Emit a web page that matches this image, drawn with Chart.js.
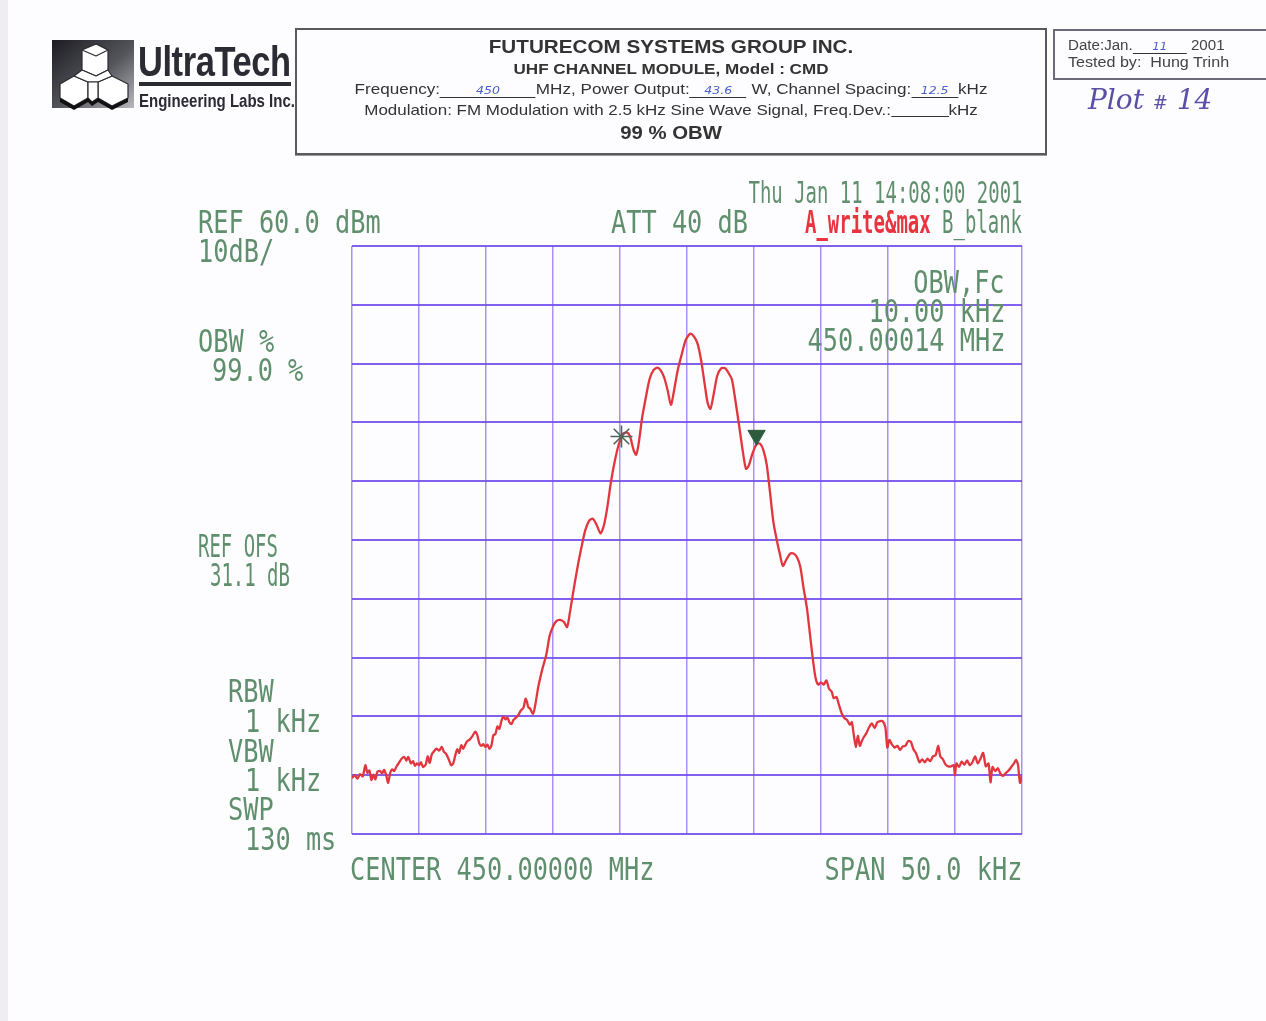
<!DOCTYPE html>
<html>
<head>
<meta charset="utf-8">
<script src="https://cdn.jsdelivr.net/npm/chart.js@4/dist/chart.umd.min.js"></script>
<style>
  html, body { margin:0; padding:0; background:#fdfcfe; }
  #page { position:relative; width:1266px; height:1021px; overflow:hidden; background:#fdfcfe; }
  #edge { position:absolute; left:0; top:0; width:8px; height:1021px; background:#efedf1; }
  #c { position:absolute; left:0; top:0; }
  .t { position:absolute; white-space:pre; }
  .an { font-family:'DejaVu Sans Mono', monospace; font-size:32px; line-height:32px; color:#5f8f6c; transform-origin:left top; transform:scaleX(0.79); }
  .an.r { transform-origin:right top; }
  .an.n { transform:scaleX(0.593); }
  .an.sm { font-size:30px; line-height:30px; transform:scaleX(0.632); }
  .red { color:#e8343f; }
  .hdr { font-family:'Liberation Sans', Arial, sans-serif; color:#333; }
  .ctr { left:295px; width:752px; text-align:center; transform-origin:center top; }
  #box1 { position:absolute; left:295px; top:28px; width:748px; height:123px; border:2px solid #5a5a5a; box-shadow: 0 1px 0 #9a9a9a; }
  #box2 { position:absolute; left:1053px; top:29px; width:230px; height:47px; border:2px solid #6a6a7a; }
  .ink { color:#4a5fd0; font-family:'DejaVu Sans', sans-serif; font-style:italic; font-size:11px; }
  .ul { display:inline-block; border-bottom:1px solid #333; text-align:center; line-height:12px; }
</style>
</head>
<body>
<div id="page">
  <div id="edge"></div>
  <canvas id="c" width="1266" height="1021"></canvas>

  <!-- logo -->
  <svg class="t" style="left:52px;top:40px" width="84" height="70" viewBox="0 0 84 70">
    <defs>
      <linearGradient id="lg" x1="0" y1="0" x2="1" y2="1">
        <stop offset="0" stop-color="#1c1c22"/>
        <stop offset="0.55" stop-color="#55555c"/>
        <stop offset="1" stop-color="#b8b8be"/>
      </linearGradient>
    </defs>
    <rect x="0" y="0" width="82" height="68" fill="url(#lg)"/>
    <g fill="#ffffff" stroke="#2a2a30" stroke-width="1.2" stroke-linejoin="round">
      <polygon points="30,10 44,4 56,10 56,30 44,36 30,30"/>
      <polygon points="44,4 56,10 44,16 30,10"/>
      <polygon points="8,44 22,36 36,42 36,58 22,66 8,58"/>
      <polygon points="46,42 60,36 76,44 76,58 60,66 46,58"/>
      <polygon points="30,30 44,36 56,30 60,36 46,42 36,42 22,36"/>
      <polygon points="36,42 46,42 46,58 40,62 36,58"/>
    </g>
    <polygon points="8,58 22,66 36,58 40,62 46,58 60,66 76,58 76,62 60,70 46,62 40,66 36,62 22,70 8,62" fill="#111"/>
  </svg>
  <div class="t hdr" style="left:138px;top:40px;font-size:42px;line-height:44px;font-weight:bold;color:#2b2b33;transform:scaleX(0.82);transform-origin:left top;letter-spacing:-0.5px">UltraTech</div>
  <div class="t" style="left:139px;top:82px;width:152px;height:4px;background:#2b2b33"></div>
  <div class="t hdr" style="left:139px;top:91px;font-size:19px;line-height:20px;font-weight:bold;color:#2b2b33;transform:scaleX(0.79);transform-origin:left top">Engineering Labs Inc.</div>

  <!-- middle header box -->
  <div id="box1"></div>
  <div class="t hdr ctr" style="top:36px;font-size:19px;line-height:22px;font-weight:bold;transform:scaleX(1.087)">FUTURECOM SYSTEMS GROUP INC.</div>
  <div class="t hdr ctr" style="top:60px;font-size:15px;line-height:18px;font-weight:bold;transform:scaleX(1.14)">UHF CHANNEL MODULE, Model : CMD</div>
  <div class="t hdr ctr" style="top:80px;font-size:15px;line-height:18px;transform:scaleX(1.14)">Frequency:<span class="ul" style="width:84px"><span class="ink">450</span></span>MHz, Power Output:<span class="ul" style="width:50px"><span class="ink">43.6</span></span> W, Channel Spacing:<span class="ul" style="width:41px"><span class="ink">12.5</span></span>kHz</div>
  <div class="t hdr ctr" style="top:101px;font-size:15px;line-height:18px;transform:scaleX(1.13)">Modulation: FM Modulation with 2.5 kHz Sine Wave Signal, Freq.Dev.:<span class="ul" style="width:51px">&nbsp;</span>kHz</div>
  <div class="t hdr ctr" style="top:123px;font-size:18px;line-height:21px;font-weight:bold;transform:scaleX(1.13)">99 % OBW</div>

  <!-- right header box -->
  <div id="box2"></div>
  <div class="t hdr" style="left:1068px;top:37px;font-size:14px;line-height:17px;color:#444;transform:scaleX(1.08);transform-origin:left top">Date:Jan.<span class="ul" style="width:50px"><span class="ink">11</span></span> 2001</div>
  <div class="t hdr" style="left:1068px;top:54px;font-size:14px;line-height:17px;color:#444;transform:scaleX(1.15);transform-origin:left top">Tested by:&nbsp; Hung Trinh</div>
  <div class="t" style="left:1088px;top:84px;font-family:'DejaVu Serif', serif;font-style:italic;font-size:28px;line-height:32px;color:#5a4fa8;">Plot <span style="font-size:18px">#</span> 14</div>

  <!-- analyzer annotations -->
  <div class="t an sm r" style="right:244px;top:178px">Thu Jan 11 14:08:00 2001</div>
  <div class="t an" style="left:198px;top:206px">REF 60.0 dBm</div>
  <div class="t an" style="left:611px;top:206px">ATT 40 dB</div>
  <div class="t an n r" style="right:244px;top:206px"><span class="red" style="font-weight:bold">A_write&amp;max</span> B_blank</div>
  <div class="t an" style="left:198px;top:235px">10dB/</div>
  <div class="t an" style="left:198px;top:325px">OBW %</div>
  <div class="t an" style="left:212px;top:354px">99.0 %</div>
  <div class="t an n" style="left:198px;top:530px">REF OFS</div>
  <div class="t an n" style="left:210px;top:559px">31.1 dB</div>
  <div class="t an" style="left:228px;top:675px">RBW</div>
  <div class="t an" style="left:245px;top:705px">1 kHz</div>
  <div class="t an" style="left:228px;top:735px">VBW</div>
  <div class="t an" style="left:245px;top:764px">1 kHz</div>
  <div class="t an" style="left:228px;top:793px">SWP</div>
  <div class="t an" style="left:245px;top:823px">130 ms</div>
  <div class="t an" style="left:350px;top:853px">CENTER 450.00000 MHz</div>
  <div class="t an r" style="right:244px;top:853px">SPAN 50.0 kHz</div>
  <div class="t an r" style="right:261px;top:266px">OBW,Fc</div>
  <div class="t an r" style="right:261px;top:295px">10.00 kHz</div>
  <div class="t an r" style="right:261px;top:324px">450.00014 MHz</div>
</div>

<script>
// Frequency offset from centre 450.00000 MHz, in kHz (span 50 kHz)
const freqOffsetKHz = [
  -25.0,-24.8,-24.6,-24.4,-24.2,-24.0,-23.85,-23.7,-23.55,-23.4,-23.25,-23.1,-22.9,-22.75,-22.6,-22.45,-22.3,-22.15,-22.0,-21.85,
  -21.7,-21.5,-21.3,-21.1,-20.95,-20.8,-20.6,-20.45,-20.3,-20.15,-20.0,-19.85,-19.7,-19.5,-19.35,-19.2,-19.05,-18.9,-18.7,-18.5,
  -18.3,-18.15,-18.0,-17.8,-17.6,-17.45,-17.3,-17.15,-17.0,-16.85,-16.7,-16.55,-16.4,-16.2,-16.0,-15.8,-15.65,-15.5,-15.35,-15.2,
  -15.05,-14.9,-14.75,-14.6,-14.45,-14.3,-14.15,-14.0,-13.85,-13.7,-13.55,-13.4,-13.25,-13.1,-12.95,-12.8,-12.6,-12.4,-12.2,-12.05,
  -11.95,-11.85,-11.7,-11.5,-11.35,-11.1,-10.8,-10.5,-10.25,-10.0,-9.75,-9.5,-9.2,-8.95,-8.75,-8.5,-8.2,-7.9,-7.6,-7.3,
  -7.03,-6.75,-6.45,-6.2,-5.95,-5.7,-5.4,-5.1,-4.8,-4.5,-4.25,-4.0,-3.8,-3.6,-3.35,-3.05,-2.8,-2.5,-2.2,-1.95,
  -1.7,-1.45,-1.2,-1.0,-0.7,-0.4,-0.1,0.25,0.55,0.8,1.05,1.3,1.55,1.75,2.0,2.25,2.55,2.85,3.1,3.35,
  3.6,3.9,4.15,4.4,4.6,4.9,5.2,5.45,5.7,5.95,6.2,6.45,6.7,6.95,7.15,7.4,7.7,7.95,8.2,8.45,
  8.7,8.95,9.2,9.4,9.6,9.8,10.0,10.2,10.4,10.6,10.8,10.95,11.15,11.35,11.55,11.75,11.95,12.15,12.3,12.45,
  12.6,12.75,12.9,13.05,13.2,13.4,13.6,13.8,14.0,14.2,14.4,14.6,14.8,14.95,15.1,15.3,15.5,15.7,15.9,16.1,
  16.3,16.5,16.7,16.9,17.1,17.35,17.55,17.75,17.95,18.15,18.35,18.55,18.75,18.9,19.1,19.3,19.5,19.7,19.9,20.0,
  20.1,20.3,20.5,20.7,20.9,21.1,21.3,21.5,21.7,21.9,22.1,22.3,22.5,22.65,22.8,23.0,23.2,23.4,23.6,23.8,
  24.0,24.2,24.4,24.55,24.7,24.85,25.0
];
// Trace A (write & max), dBm
const levelDbm = [
  -30.5,-30.0,-30.6,-29.8,-30.2,-28.3,-29.6,-29.2,-30.8,-29.9,-30.7,-29.4,-29.3,-29.7,-29.1,-30.0,-31.3,-29.6,-29.0,-29.3,
  -28.6,-27.9,-27.2,-26.9,-27.5,-26.9,-28.0,-27.6,-28.4,-28.0,-28.3,-27.8,-28.6,-28.2,-26.8,-27.9,-26.5,-26.0,-25.5,-25.8,
  -25.2,-26.0,-26.3,-27.2,-28.3,-28.0,-26.7,-25.6,-26.2,-24.9,-25.5,-24.8,-24.2,-23.9,-23.3,-22.6,-23.2,-24.6,-25.0,-24.7,
  -25.2,-24.8,-25.5,-25.0,-23.2,-23.0,-21.7,-22.1,-20.8,-20.0,-20.5,-20.2,-21.0,-21.3,-20.6,-20.3,-19.8,-19.0,-18.5,-17.0,
  -17.5,-18.4,-18.7,-19.6,-18.4,-15.0,-12.0,-9.5,-6.3,-4.7,-3.8,-3.6,-3.9,-4.8,-2.5,1.0,5.0,8.5,11.6,13.3,
  13.6,12.6,11.1,12.5,15.5,19.5,23.3,26.2,28.0,28.3,27.6,25.4,24.5,26.5,30.8,34.5,37.3,38.9,39.3,38.8,
  37.6,35.5,33.0,35.0,38.8,41.5,44.0,45.1,44.5,43.3,40.6,36.8,33.2,32.3,34.9,37.9,39.2,39.2,38.4,37.3,
  33.9,29.3,25.3,22.1,22.6,24.8,26.3,26.4,25.3,22.8,18.0,13.0,10.0,7.4,5.6,6.6,7.7,7.7,7.1,5.5,
  1.8,-1.6,-6.5,-10.4,-13.5,-14.6,-14.2,-14.6,-13.9,-15.3,-15.8,-16.9,-16.7,-18.1,-19.5,-20.3,-20.6,-21.4,-21.0,-23.2,
  -25.2,-23.3,-25.0,-24.2,-23.5,-22.8,-21.8,-21.2,-22.0,-21.0,-20.8,-20.8,-21.8,-25.3,-24.0,-24.8,-25.3,-25.0,-25.7,-25.1,
  -25.0,-24.2,-24.3,-25.6,-26.3,-27.8,-27.3,-27.8,-27.2,-27.6,-26.8,-26.6,-25.0,-26.8,-27.3,-28.2,-28.5,-28.5,-28.3,-30.0,
  -28.0,-28.6,-27.7,-28.2,-27.5,-28.3,-27.8,-26.8,-28.0,-27.2,-26.2,-28.5,-28.0,-31.2,-28.6,-29.3,-28.8,-29.8,-30.1,-29.6,
  -29.2,-28.6,-28.0,-27.4,-28.2,-31.3,-30.0
];
// OBW markers (lower edge "*" and upper edge triangle)
const markerOffsetKHz = [-4.89, 5.19];
const markerLevelDbm = [27.6, 27.8];
// Axis settings: 10 divisions each
const xMinKHz = -25, xMaxKHz = 25, xDivKHz = 5;
const yRefDbm = 60, yBottomDbm = -40, yDivDb = 10;

const traceData = freqOffsetKHz.map((f, i) => ({ x: f, y: levelDbm[i] }));

new Chart(document.getElementById('c'), {
  type: 'line',
  data: {
    datasets: [
      {
        data: traceData,
        borderColor: '#e2363e',
        borderWidth: 2.3,
        pointRadius: 0,
        tension: 0.25,
        fill: false,
        order: 2
      },
      {
        data: [{ x: markerOffsetKHz[0], y: markerLevelDbm[0] }],
        showLine: false,
        pointStyle: 'star',
        pointRadius: 11,
        borderColor: '#4d6657',
        borderWidth: 1.6,
        backgroundColor: '#4d6657',
        order: 1
      },
      {
        data: [{ x: markerOffsetKHz[1], y: markerLevelDbm[1] }],
        showLine: false,
        pointStyle: 'triangle',
        rotation: 180,
        pointRadius: 10,
        borderColor: '#2e5b3d',
        backgroundColor: '#2e5b3d',
        borderWidth: 1,
        order: 1
      }
    ]
  },
  options: {
    responsive: false,
    devicePixelRatio: 1,
    animation: false,
    layout: { padding: { left: 352, right: 244, top: 246, bottom: 187 } },
    plugins: { legend: { display: false }, tooltip: { enabled: false }, title: { display: false } },
    scales: {
      x: {
        type: 'linear',
        min: xMinKHz,
        max: xMaxKHz,
        ticks: { stepSize: xDivKHz, display: false },
        grid: { color: 'rgba(135,100,240,0.7)', lineWidth: 1.5, drawTicks: false },
        border: { display: false }
      },
      y: {
        min: yBottomDbm,
        max: yRefDbm,
        ticks: { stepSize: yDivDb, display: false },
        grid: { color: 'rgba(115,80,235,0.9)', lineWidth: 2, drawTicks: false },
        border: { display: false }
      }
    }
  }
});
</script>
</body>
</html>
